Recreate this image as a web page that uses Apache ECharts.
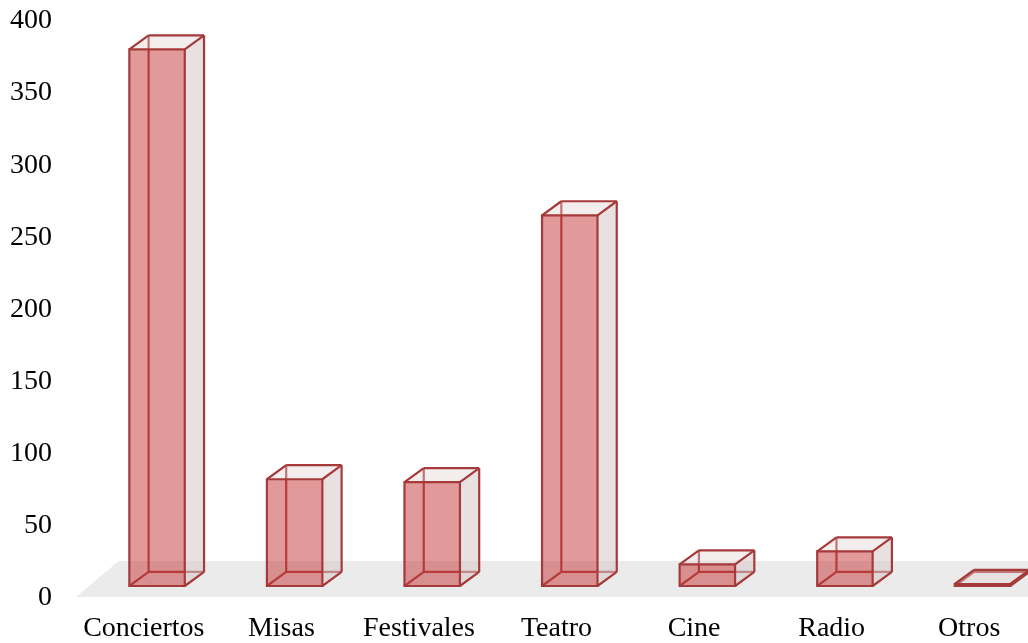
<!DOCTYPE html>
<html>
<head>
<meta charset="utf-8">
<script src="https://cdn.jsdelivr.net/npm/echarts@6/dist/echarts.min.js"></script>
<style>
  html, body { margin: 0; padding: 0; background: #fff; overflow: hidden; }
  /* the floor runs past the right edge of the window */
  #chart { width: 1038px; height: 643px; }
</style>
</head>
<body>
<div id="chart"></div>
<script>
// Actividades y número de casos
const categories = ['Conciertos', 'Misas', 'Festivales', 'Teatro', 'Cine', 'Radio', 'Otros'];
const values = [372, 74, 72, 257, 15, 24, 1];
const yTicks = { min: 0, max: 400, interval: 50 };

const EDGE = '#A63A3A';
const FONT = '"Liberation Serif", "Times New Roman", serif';

// Draws one translucent 3D column from the axis scales
function renderBox(params, api) {
  const i = api.value(0), v = api.value(1);
  const base = api.coord([i, 0]);
  const top = api.coord([i, v]);
  const bw = api.size([1, 0])[0];
  const lift = 12;
  const x0 = base[0] - bw * 0.105;
  const w = bw * 0.403;
  const yb = base[1] - lift;
  const yt = Math.min(top[1] - lift, yb - 2);
  const dx = bw * 0.14, dy = bw * 0.102;

  const A = [x0, yt], B = [x0 + w, yt], C = [x0 + w, yb], D = [x0, yb];
  const sh = p => [p[0] + dx, p[1] - dy];
  const A2 = sh(A), B2 = sh(B), C2 = sh(C), D2 = sh(D);
  const line = (p, q) => ({
    type: 'line',
    shape: { x1: p[0], y1: p[1], x2: q[0], y2: q[1] },
    style: { stroke: EDGE, lineWidth: 2.2 }
  });
  const poly = (pts, fill) => ({
    type: 'polygon',
    shape: { points: pts },
    style: { fill: fill, stroke: null }
  });

  return {
    type: 'group',
    children: [
      // hidden edges, seen through the faces
      line(A2, D2), line(D2, C2), line(D, D2),
      // right side and top faces
      poly([B, B2, C2, C], 'rgba(215,200,200,0.55)'),
      poly([A, A2, B2, B], 'rgba(225,210,210,0.4)'),
      // front face
      poly([A, B, C, D], 'rgba(200,60,60,0.52)'),
      // visible edges
      {
        type: 'polygon',
        shape: { points: [A, B, C, D] },
        style: { fill: null, stroke: EDGE, lineWidth: 2.2 }
      },
      line(A, A2), line(A2, B2), line(B, B2), line(B2, C2), line(C, C2)
    ]
  };
}

// Light grey floor plane under the columns
function renderFloor(params, api) {
  const cs = params.coordSys;
  const base = api.coord([0, 0]);
  const bw = api.size([1, 0])[0];
  const y0 = base[1] - 1;
  const y1 = y0 - bw * 0.262;
  const x0 = cs.x + 1;
  const x1 = x0 + bw * 0.31;
  const xr = cs.x + cs.width + 20;
  return {
    type: 'polygon',
    shape: { points: [[x0, y0], [x1, y1], [xr, y1], [xr, y0]] },
    style: { fill: '#EBEBEB' }
  };
}

const chart = echarts.init(document.getElementById('chart'), null, { renderer: 'canvas' });
chart.setOption({
  animation: false,
  backgroundColor: '#ffffff',
  grid: { left: 75, top: 21, right: 0, height: 577, containLabel: false },
  xAxis: {
    type: 'category',
    data: categories,
    axisLine: { show: false },
    axisTick: { show: false },
    axisLabel: { fontFamily: FONT, fontSize: 28, color: '#000', margin: 17, interval: 0 }
  },
  yAxis: {
    type: 'value',
    min: yTicks.min,
    max: yTicks.max,
    interval: yTicks.interval,
    axisLine: { show: false },
    axisTick: { show: false },
    splitLine: { show: false },
    axisLabel: { fontFamily: FONT, fontSize: 28, color: '#000', margin: 23 }
  },
  series: [
    {
      type: 'custom',
      silent: true,
      renderItem: renderFloor,
      data: [[0, 0]],
      z: 1
    },
    {
      type: 'custom',
      silent: true,
      renderItem: renderBox,
      data: values.map((v, i) => [i, v]),
      z: 2
    }
  ]
});
</script>
</body>
</html>
